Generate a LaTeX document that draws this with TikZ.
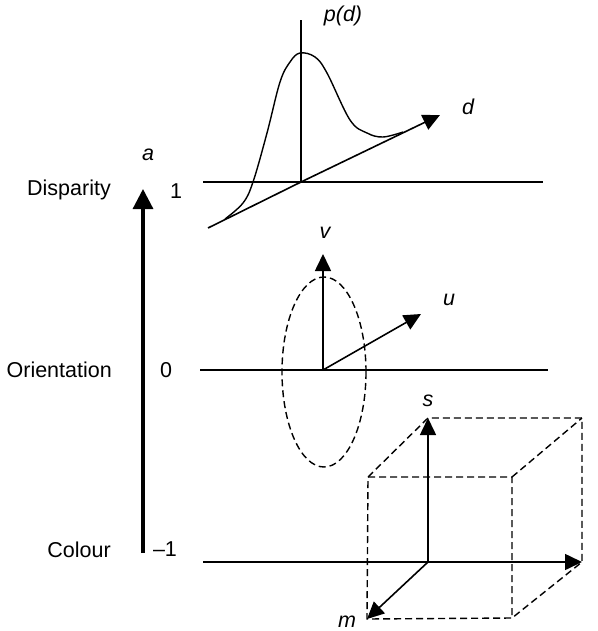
\documentclass[tikz,border=0pt]{standalone}
\usepackage{fontspec}
\setmainfont{Liberation Sans}
\usetikzlibrary{arrows.meta}
\tikzset{
  axline/.style={line width=1.6pt},
  axarrow/.style={axline, -{Triangle[length=17pt,width=16pt]}},
  mainarrow/.style={line width=3.2pt, -{Triangle[length=20pt,width=20pt]}},
  boxdash/.style={line width=1.4pt, dash pattern=on 7pt off 4pt},
  lbl/.style={font=\fontsize{21.5}{25}\selectfont, inner sep=0pt},
  var/.style={inner sep=0pt, font=\fontsize{21.5}{25}\selectfont\itshape},
}
\begin{document}
\begin{tikzpicture}[x=1pt,y=-1pt]
\useasboundingbox (0,0) rectangle (597,631);
% level axis
\coordinate (lo) at (143,553);
\coordinate (hi) at (143,189);
\draw[mainarrow] (lo) -- (hi);
\node[var] (a) at (148,155) {a};
\node[lbl,anchor=east] (dl) at (111,190) {Disparity};
\node[lbl,anchor=east] (ol) at (112,370) {Orientation};
\node[lbl,anchor=east] (cl) at (111,550) {Colour};
\node[lbl] (n1) at (176,191) {1};
\node[lbl] (n0) at (166,370) {0};
\node[lbl] (nm) at (165,549) {–1};
% disparity
\coordinate (dw) at (203,182); \coordinate (de) at (543,182);
\coordinate (do) at (301,182); \coordinate (dt) at (301,20);
\coordinate (dd) at (208,228); \coordinate (dx) at (440,115);
\draw[axline] (dw) -- (de);
\draw[axline] (do) -- (dt);
\draw[axline] (dd) -- (do);
\draw[axarrow] (do) -- (dx);
\draw[line width=1.4pt] plot[smooth,tension=0.6] coordinates {(225,219) (243,203) (253,182)
  (267,133) (280,82) (290,62) (300,53) (315,57) (327,73) (350,120) (367,133) (383,137) (403,132)};
\node[var] (pd) at (343,16) {p(d)};
\node[var] (d) at (468,107) {d};
% orientation
\coordinate (ow) at (200,370); \coordinate (oe) at (548,370);
\coordinate (oo) at (323,370); \coordinate (ov) at (323,254);
\coordinate (ou) at (421,314);
\draw[axline] (ow) -- (oe);
\draw[axarrow] (oo) -- (ov);
\draw[axarrow] (oo) -- (ou);
\draw[boxdash] (324,372) ellipse [x radius=42, y radius=95];
\node[var] (v) at (325,233) {v};
\node[var] (u) at (449,300) {u};
% colour
\coordinate (cw) at (203,562); \coordinate (co) at (428,562);
\coordinate (ce) at (582,562); \coordinate (cs) at (428,418);
\coordinate (cm) at (367,619);
\coordinate (f1) at (368,477); \coordinate (f2) at (512,477);
\coordinate (f3) at (512,618); \coordinate (b2) at (582,418);
\draw[boxdash] (f1) -- (f2) -- (f3) -- (cm) -- cycle;
\draw[boxdash] (f1) -- (cs) -- (b2) -- (ce) -- (f3);
\draw[boxdash] (f2) -- (b2);
\draw[axline] (cw) -- (co);
\draw[axarrow] (co) -- (ce);
\draw[axarrow] (co) -- (cs);
\draw[axarrow] (co) -- (cm);
\node[var] (s) at (428,401) {s};
\node[var] (m) at (347,622) {m};
\end{tikzpicture}
\end{document}
